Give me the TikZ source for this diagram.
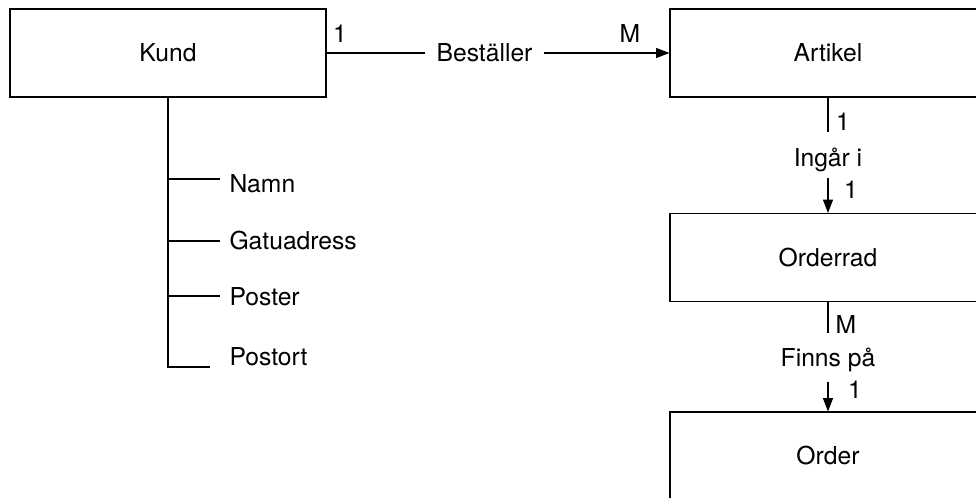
\documentclass[tikz,border=0pt]{standalone}
\usepackage{fontspec}
\setmainfont{TeX Gyre Heros}
\usepackage{tikz}
\usetikzlibrary{arrows.meta}
\tikzstyle{arrow} = [-{Triangle[length=10pt,width=7.5pt]}]
\tikzstyle{entity} = [draw, minimum width=237pt, minimum height=66pt, inner sep=0pt]
\tikzstyle{attr} = [anchor=west, inner sep=0pt]
\tikzstyle{card} = [inner sep=0pt]

\begin{document}
\begin{tikzpicture}[x=0.75pt,y=-0.75pt,line width=0.8pt,font=\fontsize{18.5}{22}\selectfont]
\useasboundingbox (0,0) rectangle (976,497);
\clip (0,0) rectangle (976,497);

\node[entity] (kund) at (168,53) {Kund};
\node[entity] (artikel) at (828,53) {Artikel};
\node[entity] (orderrad) at (828,257.5) {Orderrad};
\node[entity] (order) at (828,456) {Order};

\node[inner xsep=8pt] (bestaller) at (484.5,53) {Beställer};
\draw (kund.east) -- (bestaller.west);
\draw[arrow] (bestaller.east) -- (artikel.west);
\node[card] (kundcard) at (340,34) {1};
\node[card] (artikelcard) at (630,34) {M};

\node (ingar) at (828,160) {Ingår i};
\coordinate (ingarT) at (828,132);
\coordinate (ingarB) at (828,178);
\draw (artikel.south) -- (ingarT);
\draw[arrow] (ingarB) -- (orderrad.north);
\node[card] (ingarcard1) at (843,122) {1};
\node[card] (ingarcard2) at (851,190) {1};

\node (finns) at (828,360) {Finns på};
\coordinate (finnsT) at (828,333);
\coordinate (finnsB) at (828,382);
\draw (orderrad.south) -- (finnsT);
\draw[arrow] (finnsB) -- (order.north);
\node[card] (finnscard1) at (846,325) {M};
\node[card] (finnscard2) at (855,390) {1};

\node[attr] (namn) at (229,184) {Namn};
\node[attr] (gatu) at (229,241) {Gatuadress};
\node[attr] (poster) at (229,297) {Poster};
\node[attr] (postort) at (229,357) {Postort};
\coordinate (namnL) at (220,179);
\coordinate (gatuL) at (220,241);
\coordinate (posterL) at (220,296);
\coordinate (postortL) at (210,367);
\draw (kund.south) |- (postortL);
\draw (kund.south |- namnL) -- (namnL);
\draw (kund.south |- gatuL) -- (gatuL);
\draw (kund.south |- posterL) -- (posterL);
\end{tikzpicture}
\end{document}
